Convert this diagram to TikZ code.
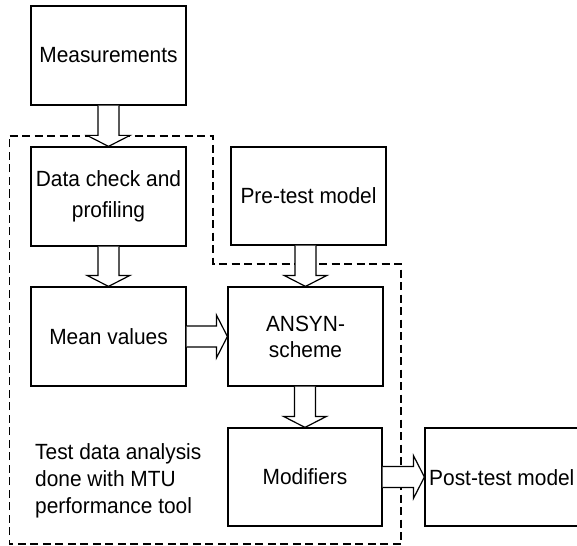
\documentclass[tikz,border=0pt]{standalone}
\usepackage{fontspec}
\setmainfont{Liberation Sans}[FakeStretch=0.95]
\usetikzlibrary{calc}
\tikzset{
  box/.style={draw, line width=1.2pt, inner sep=0pt, align=center,
    font=\fontsize{22}{27}\selectfont},
  plaintext/.style={inner sep=0pt, align=left, font=\fontsize{22}{27}\selectfont},
  blockarrow/.style={draw, line width=1.2pt, fill=white, line join=miter},
  region/.style={draw, line width=1.2pt, dash pattern=on 8pt off 4.5pt}
}
\begin{document}
\begin{tikzpicture}[x=1pt,y=-1pt]
\useasboundingbox (0,0) rectangle (577,545);
\clip (0,0) rectangle (577,545);
% dashed region
\draw[region] (9.5,136) -- (213,136) -- (213,264) -- (401,264) -- (401,544) -- (9.5,544) -- cycle;
% boxes
\node[box, minimum width=155pt, minimum height=99pt] (meas) at (108.5,55.5) {Measurements};
\node[box, minimum width=155pt, minimum height=99pt, font=\fontsize{22}{31}\selectfont] (check) at (108.5,196.5) {Data check and\\profiling};
\node[box, minimum width=155pt, minimum height=99pt] (mean) at (108.5,336.5) {Mean values};
\node[box, minimum width=155pt, minimum height=98pt] (pre) at (308.5,196) {Pre-test model};
\node[box, minimum width=155pt, minimum height=99pt, font=\fontsize{22}{26}\selectfont] (ansyn) at (305.5,336.5) {ANSYN-\\scheme};
\node[box, minimum width=154pt, minimum height=98pt] (mod) at (305,477) {Modifiers};
\node[box, minimum width=180pt, minimum height=98pt] (post) at (515,477) {};
\node[plaintext, anchor=west] (posttext) at (429,478) {Post-test model};
\node[plaintext, anchor=west] (note) at (35,481) {Test data analysis\\done with MTU\\performance tool};
% vertical block arrows
\foreach \s/\t in {meas/check, check/mean, pre/ansyn, ansyn/mod}{
  \draw[blockarrow]
    ($(\t.north |- \s.south)+(-10.5,0)$) -- ($(\t.north)+(-10.5,-11)$) --
    ($(\t.north)+(-21.5,-11)$) -- (\t.north) -- ($(\t.north)+(21.5,-11)$) --
    ($(\t.north)+(10.5,-11)$) -- ($(\t.north |- \s.south)+(10.5,0)$);
}
% horizontal block arrows
\foreach \s/\t in {mean/ansyn, mod/post}{
  \draw[blockarrow]
    ($(\s.east)+(0,-10.5)$) -- ($(\t.west |- \s.east)+(-11,-10.5)$) --
    ($(\t.west |- \s.east)+(-11,-21.5)$) -- (\t.west |- \s.east) --
    ($(\t.west |- \s.east)+(-11,21.5)$) -- ($(\t.west |- \s.east)+(-11,10.5)$) --
    ($(\s.east)+(0,10.5)$);
}
\end{tikzpicture}
\end{document}
